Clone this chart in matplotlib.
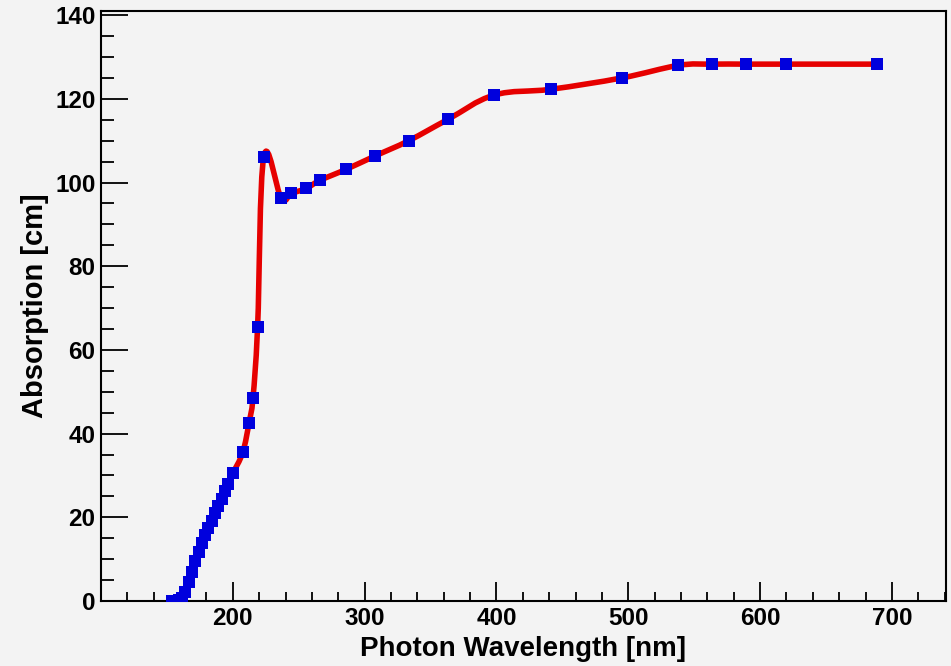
import matplotlib.pyplot as plt
import numpy as np
from matplotlib.path import Path
from matplotlib.patches import PathPatch
from matplotlib.ticker import MultipleLocator, FixedLocator

# Absorption length vs photon wavelength
wavelength = [154, 156.5, 159, 161.5, 164, 166.5, 169, 171.5, 174, 176.5,
              179, 181.5, 184, 186.5, 189, 191.5, 194, 196.5, 200.0, 207.5,
              212.3, 215.3, 218.8, 223.5, 236.8, 244.5, 255.6, 266.0, 286.2,
              308.2, 333.4, 363.2, 398.2, 441.3, 495.0, 538.0, 563.3, 589.5,
              620.0, 688.6]
absorption = [0.0, 0.1, 0.3, 0.8, 2.2, 4.5, 7.0, 9.5, 11.8, 13.8,
              15.8, 17.5, 19.2, 21.0, 22.7, 24.4, 26.2, 27.9, 30.5, 35.5,
              42.6, 48.6, 65.6, 106.2, 96.2, 97.4, 98.6, 100.5, 103.2,
              106.4, 110.0, 115.1, 120.9, 122.3, 125.0, 128.0, 128.3, 128.3,
              128.3, 128.3]

x_ticks = [200, 300, 400, 500, 600, 700]
y_ticks = [0, 20, 40, 60, 80, 100, 120, 140]
x_range = (100, 741)
y_range = (0, 141)

BG = '#f3f3f3'
FONT = ['Liberation Sans', 'DejaVu Sans']


def smooth_path(x, y):
    """Catmull-Rom curve through the points, as cubic Bezier segments."""
    pts = np.column_stack([x, y]).astype(float)
    ext = np.vstack([pts[0], pts, pts[-1]])
    verts = [pts[0]]
    codes = [Path.MOVETO]
    for i in range(len(pts) - 1):
        p0, p1, p2, p3 = ext[i], ext[i + 1], ext[i + 2], ext[i + 3]
        verts += [p1 + (p2 - p0) / 5.5, p2 - (p3 - p1) / 5.5, p2]
        codes += [Path.CURVE4] * 3
    return Path(verts, codes)


plt.rcParams['font.family'] = FONT
plt.rcParams['font.weight'] = 'bold'

fig = plt.figure(figsize=(9.51, 6.66), dpi=100, facecolor=BG)
ax = fig.add_axes([101 / 951, 65 / 666, 845 / 951, 590 / 666], facecolor=BG)

# --- smooth red curve + blue square markers ---
ax.add_patch(PathPatch(smooth_path(wavelength, absorption), facecolor='none',
                       edgecolor='#e60000', lw=4.0, capstyle='round',
                       joinstyle='round', zorder=2))
ax.plot(wavelength, absorption, linestyle='none', marker='s', markersize=9.2,
        color='#0000dd', markeredgewidth=0, zorder=3)

ax.set_xlim(*x_range)
ax.set_ylim(*y_range)

ax.xaxis.set_major_locator(FixedLocator(x_ticks))
ax.xaxis.set_minor_locator(MultipleLocator(20))
ax.yaxis.set_major_locator(FixedLocator(y_ticks))
ax.yaxis.set_minor_locator(MultipleLocator(5))

ax.tick_params(axis='both', which='both', direction='in', top=False,
               right=False, width=1.3, labelsize=17.5, color='black')
ax.tick_params(axis='x', which='major', length=13.5, pad=4)
ax.tick_params(axis='x', which='minor', length=6.5)
ax.tick_params(axis='y', which='major', length=19.5, pad=4)
ax.tick_params(axis='y', which='minor', length=9.5)

for side in ax.spines.values():
    side.set_linewidth(1.5)

ax.set_xlabel('Photon Wavelength [nm]', fontsize=20, fontweight='bold')
ax.set_ylabel('Absorption [cm]', fontsize=21, fontweight='bold')
ax.xaxis.set_label_coords(0.5, -0.06)
ax.xaxis.label.set_va('top')
ax.yaxis.set_label_coords(-0.062, 0.5)

fig.savefig('out.png', dpi=100, facecolor=BG)
